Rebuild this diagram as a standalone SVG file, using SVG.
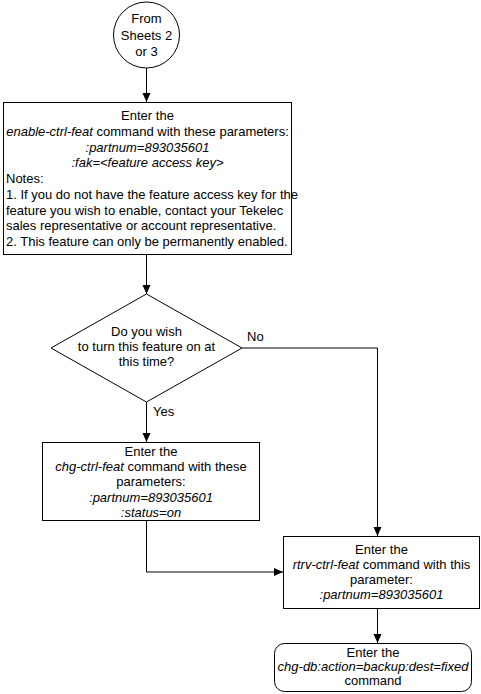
<svg xmlns="http://www.w3.org/2000/svg" width="481" height="694" viewBox="0 0 481 694">
<style>
text{font-family:"Liberation Sans",Arial,sans-serif;font-size:13px;fill:#000}
.c{text-anchor:middle}
.i{font-style:italic}
.s{fill:#fff;stroke:#000;stroke-width:1}
.l{fill:none;stroke:#000;stroke-width:1}
</style>
<defs>
<marker id="a" markerWidth="10" markerHeight="10" refX="9" refY="4" orient="auto" markerUnits="userSpaceOnUse">
<path d="M0,0 L9,4 L0,8 Z" fill="#000"/>
</marker>
</defs>
<rect width="481" height="694" fill="#fff"/>
<g id="connectors">
<path class="l" d="M146.5,68 V102" marker-end="url(#a)"/>
<path class="l" d="M146.5,254 V294" marker-end="url(#a)"/>
<path class="l" d="M146.5,402 V442" marker-end="url(#a)"/>
<path class="l" d="M242,348 H377.5 V536" marker-end="url(#a)"/>
<path class="l" d="M146.5,520 V572 H283" marker-end="url(#a)"/>
<path class="l" d="M377.5,608 V643" marker-end="url(#a)"/>
<text x="247" y="341">No</text>
<text x="153" y="416">Yes</text>
</g>
<g id="start">
<circle class="s" cx="146.5" cy="35" r="33"/>
<text class="c" x="146.5" y="23">From</text>
<text class="c" x="146.5" y="40">Sheets 2</text>
<text class="c" x="146.5" y="56">or 3</text>
</g>
<g id="enable">
<rect class="s" x="3.5" y="102.5" width="288" height="152"/>
<text class="c" x="147.5" y="120">Enter the</text>
<text class="c" x="147.5" y="136"><tspan class="i">enable-ctrl-feat</tspan> command with these parameters:</text>
<text class="c i" x="147.5" y="152">:partnum=893035601</text>
<text class="c i" x="147.5" y="167">:fak=&lt;feature access key&gt;</text>
<text x="6" y="183">Notes:</text>
<text x="6" y="199">1. If you do not have the feature access key for the</text>
<text x="6" y="215">feature you wish to enable, contact your Tekelec</text>
<text x="6" y="230">sales representative or account representative.</text>
<text x="6" y="246">2. This feature can only be permanently enabled.</text>
</g>
<g id="decision">
<polygon class="s" points="146.5,294 242,348 146.5,402 51,348"/>
<text class="c" x="146.5" y="336">Do you wish</text>
<text class="c" x="146.5" y="351">to turn this feature on at</text>
<text class="c" x="146.5" y="366">this time?</text>
</g>
<g id="chg">
<rect class="s" x="42.5" y="442.5" width="217" height="78"/>
<text class="c" x="151" y="456">Enter the</text>
<text class="c" x="151" y="471"><tspan class="i">chg-ctrl-feat</tspan> command with these</text>
<text class="c" x="151" y="486">parameters:</text>
<text class="c i" x="151" y="502">:partnum=893035601</text>
<text class="c i" x="151" y="517">:status=on</text>
</g>
<g id="rtrv">
<rect class="s" x="283.5" y="536.5" width="196" height="72"/>
<text class="c" x="381.5" y="554">Enter the</text>
<text class="c" x="381.5" y="569"><tspan class="i">rtrv-ctrl-feat</tspan> command with this</text>
<text class="c" x="381.5" y="584">parameter:</text>
<text class="c i" x="381.5" y="599">:partnum=893035601</text>
</g>
<g id="chgdb">
<rect class="s" x="274.5" y="643.5" width="197" height="48" rx="10"/>
<text class="c" x="373" y="657">Enter the</text>
<text class="c i" x="373" y="671">chg-db:action=backup:dest=fixed</text>
<text class="c" x="373" y="685">command</text>
</g>
</svg>
